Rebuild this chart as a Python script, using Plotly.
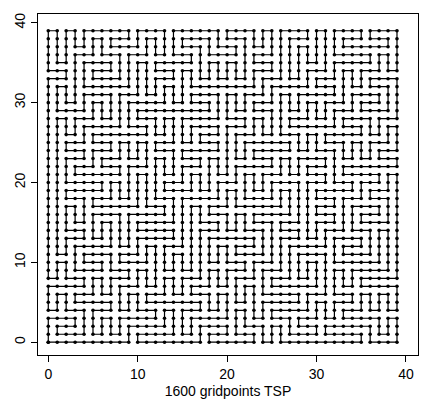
import plotly.graph_objects as go

# Coarse 20x20 maze preferences (top row first), tour is the walk around this tree
coarse_pref = [
    "DDRDLRDDLLRDDRLDDLRD",
    "DRURDLURDULRUDDLURDD",
    "RUDLLDRRUDDLLDRUDLLU",
    "DLRRUDDLURRUDLLRDURD",
    "DURDDLLURDDRUDRRLDLD",
    "DLLUDRRDLLURDDLURRDL",
    "DURDLLUDRDDLURRDLLUD",
    "DRULDDRRULDRDLURDDRD",
    "DDLRRUDLLDRULDDLRRUL",
    "DURDLDRUDRLDRRDLUDLD",
    "URDLUURDLLDRUDURDLRU",
    "UDRRDLLUDRRDLLURDDLU",
    "URUDDRRUDLURDRUDLURU",
    "UDLLURDLDRDLUDLLRDDU",
    "ULRDRUDDLURRUDRDULLU",
    "UURULDRRUDDLRDUUDRRU",
    "RDLUDLLURRDDULDLRUDL",
    "URRDUURDLUDLRRUDDLUU",
    "DLUDRRUDDLLURDRRULDD",
    "RRULLRRULRLLURRULLRU",
]
x_ticks = [0, 10, 20, 30, 40]
y_ticks = [0, 10, 20, 30, 40]
x_title = "1600 gridpoints TSP"

N = len(coarse_pref)
pref = {}
for r, s in enumerate(coarse_pref):
    cy = N - 1 - r
    for cx, ch in enumerate(s):
        pref[(cx, cy)] = ch
DIRS = {'L': (-1, 0), 'R': (1, 0), 'U': (0, 1), 'D': (0, -1)}
ROT = {'U': 'R', 'R': 'D', 'D': 'L', 'L': 'U'}

par = {c: c for c in pref}
def find(a):
    while par[a] != a:
        par[a] = par[par[a]]
        a = par[a]
    return a

tree = set()
def try_add(c, ch):
    dx, dy = DIRS[ch]
    n = (c[0] + dx, c[1] + dy)
    if n not in pref:
        return
    a, b = find(c), find(n)
    if a != b:
        par[a] = b
        tree.add(frozenset((c, n)))

cells = sorted(pref, key=lambda c: (c[1], c[0]))
for c in cells:
    try_add(c, pref[c])
for c in cells:
    try_add(c, ROT[pref[c]])
for c in cells:
    for ch in 'RULD':
        try_add(c, ch)

# fine edges
edges = set()
def E(a, b):
    edges.add(frozenset((a, b)))
for (cx, cy) in pref:
    x0, y0 = 2 * cx, 2 * cy
    sides = {
        'D': ((x0, y0), (x0 + 1, y0)),
        'U': ((x0, y0 + 1), (x0 + 1, y0 + 1)),
        'L': ((x0, y0), (x0, y0 + 1)),
        'R': ((x0 + 1, y0), (x0 + 1, y0 + 1)),
    }
    for ch, (a, b) in sides.items():
        dx, dy = DIRS[ch]
        n = (cx + dx, cy + dy)
        if frozenset(((cx, cy), n)) not in tree:
            E(a, b)
        elif ch == 'R':
            E((x0 + 1, y0), (x0 + 2, y0))
            E((x0 + 1, y0 + 1), (x0 + 2, y0 + 1))
        elif ch == 'U':
            E((x0, y0 + 1), (x0, y0 + 2))
            E((x0 + 1, y0 + 1), (x0 + 1, y0 + 2))

adj = {}
for e in edges:
    a, b = tuple(e)
    adj.setdefault(a, []).append(b)
    adj.setdefault(b, []).append(a)

start = (0, 0)
tour = [start]
prev, cur = None, start
while True:
    nxt = [p for p in adj[cur] if p != prev][0] if prev is not None else adj[cur][0]
    if nxt == start:
        break
    tour.append(nxt)
    prev, cur = cur, nxt
tour.append(start)
tx = [p[0] for p in tour]
ty = [p[1] for p in tour]

fig = go.Figure(go.Scatter(
    x=tx, y=ty, mode='lines+markers',
    line=dict(color='black', width=1.2),
    marker=dict(color='black', size=3.6),
    hoverinfo='skip'))

font = dict(family='Liberation Sans, Arial, sans-serif', size=14, color='black')
axis_common = dict(showgrid=False, zeroline=False, showline=True, mirror=True,
                   linecolor='black', linewidth=1, ticks='outside', ticklen=6,
                   tickwidth=1, tickcolor='black', tickfont=font)
fig.update_layout(
    width=421, height=407,
    margin=dict(l=38, r=3, t=14, b=52),
    paper_bgcolor='white', plot_bgcolor='white',
    showlegend=False, font=font,
    xaxis=dict(range=[-1.15, 41.35], tickvals=x_ticks, **axis_common,
               title=dict(text=x_title, font=font, standoff=5)),
    yaxis=dict(range=[-1.6, 41.1], tickvals=y_ticks, tickangle=-90, **axis_common),
)
fig.write_html("out.html")
